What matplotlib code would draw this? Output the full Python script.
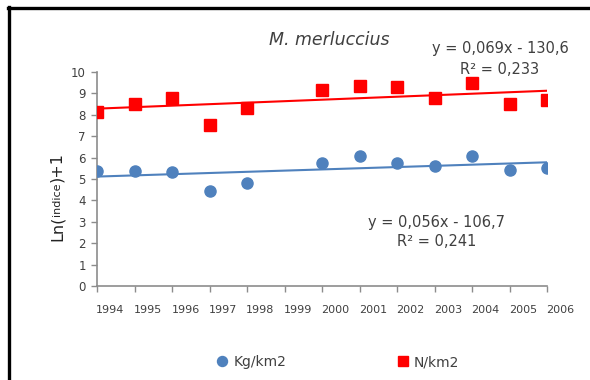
import numpy as np
import matplotlib
matplotlib.use("Agg")
import matplotlib.pyplot as plt
from matplotlib.lines import Line2D
from matplotlib.transforms import ScaledTranslation

# ---- data ----
years = [1994, 1995, 1996, 1997, 1998, 2000, 2001, 2002, 2003, 2004, 2005, 2006]
kg_km2 = [5.37, 5.37, 5.33, 4.42, 4.80, 5.73, 6.07, 5.73, 5.60, 6.07, 5.42, 5.51]
n_km2 = [8.13, 8.50, 8.80, 7.52, 8.30, 9.16, 9.35, 9.30, 8.80, 9.48, 8.50, 8.70]
tick_years = list(range(1994, 2007))
tick_labels = [str(y) for y in tick_years]
y_ticks = list(range(0, 11))
title = "M. merluccius"
eq_red = ["y = 0,069x - 130,6", "R² = 0,233"]
eq_blue = ["y = 0,056x - 106,7", "R² = 0,241"]
legend_labels = ["Kg/km2", "N/km2"]

W, H = 590, 380
fig = plt.figure(figsize=(W / 100, H / 100), dpi=100)
fig.patch.set_facecolor("white")

def fx(px):
    return px / W

def fy(py):
    return (H - py) / H

ax = fig.add_axes([fx(97), fy(286), fx(547) - fx(97), fy(72) - fy(286)])

blue = "#4F81BD"
red = "#FF0000"
gray_axis = "#8C8C8C"
txt = "#404040"

ax.plot(years, kg_km2, "o", color=blue, markersize=8, zorder=3, label=legend_labels[0])
ax.plot(years, n_km2, "s", color=red, markersize=8, zorder=3, label=legend_labels[1])

# linear trend lines
xs = np.array([tick_years[0], tick_years[-1]], dtype=float)
for vals, c in [(kg_km2, blue), (n_km2, red)]:
    p = np.polyfit(years, vals, 1)
    ax.plot(xs, np.polyval(p, xs), color=c, lw=1.5, zorder=2)

ax.set_xlim(tick_years[0], tick_years[-1])
ax.set_ylim(0, 10)
ax.set_xticks(tick_years)
ax.set_xticklabels(tick_labels, fontsize=8, color=txt)
ax.set_yticks(y_ticks)
ax.set_yticklabels([str(v) for v in y_ticks], fontsize=8.5, color=txt)
ax.tick_params(axis="both", direction="out", length=4, color=gray_axis, width=1)
ax.tick_params(axis="x", pad=10)
ax.tick_params(axis="y", pad=4)
for lab in ax.get_xticklabels():
    lab.set_transform(lab.get_transform() + ScaledTranslation(13.5 / 100, 0, fig.dpi_scale_trans))

for s in ["top", "right"]:
    ax.spines[s].set_visible(False)
for s in ["left", "bottom"]:
    ax.spines[s].set_color(gray_axis)
    ax.spines[s].set_linewidth(1.2)
ax.set_facecolor("none")

# title
fig.text(fx(329), fy(40), title, ha="center", va="center", fontsize=12.5, style="italic", color="#404040")

# equations
fig.text(fx(500), fy(49), eq_red[0], ha="center", va="center", fontsize=10.5, color=txt)
fig.text(fx(500), fy(70), eq_red[1], ha="center", va="center", fontsize=10.5, color=txt)
fig.text(fx(437), fy(222), eq_blue[0], ha="center", va="center", fontsize=10.5, color=txt)
fig.text(fx(437), fy(242), eq_blue[1], ha="center", va="center", fontsize=10.5, color=txt)

# y label with smaller "indice"
fig.canvas.draw()
renderer = fig.canvas.get_renderer()
pieces = [("Ln(", 11.5), ("indice", 8), (")+1", 11.5)]
ystart = 241
xc = 57
for s, fs in pieces:
    t = fig.text(fx(xc), fy(ystart), s, rotation=90, rotation_mode="anchor",
                 ha="left", va="center", fontsize=fs, color="#222222")
    bb = t.get_window_extent(renderer)
    ystart -= bb.height

# legend
leg = fig.legend(loc="center", bbox_to_anchor=(fx(338), fy(362)), ncol=2, frameon=False,
                 fontsize=10, handlelength=0.8, handletextpad=0.4, columnspacing=8.0,
                 labelcolor=txt, markerscale=0.9)

# frame border (left and top)
fig.add_artist(Line2D([fx(9), fx(9)], [fy(7), 0], color="black", lw=2.4, transform=fig.transFigure))
fig.add_artist(Line2D([fx(8), 1], [fy(8), fy(8)], color="black", lw=2.4, transform=fig.transFigure))

fig.savefig("out.png", dpi=100)
